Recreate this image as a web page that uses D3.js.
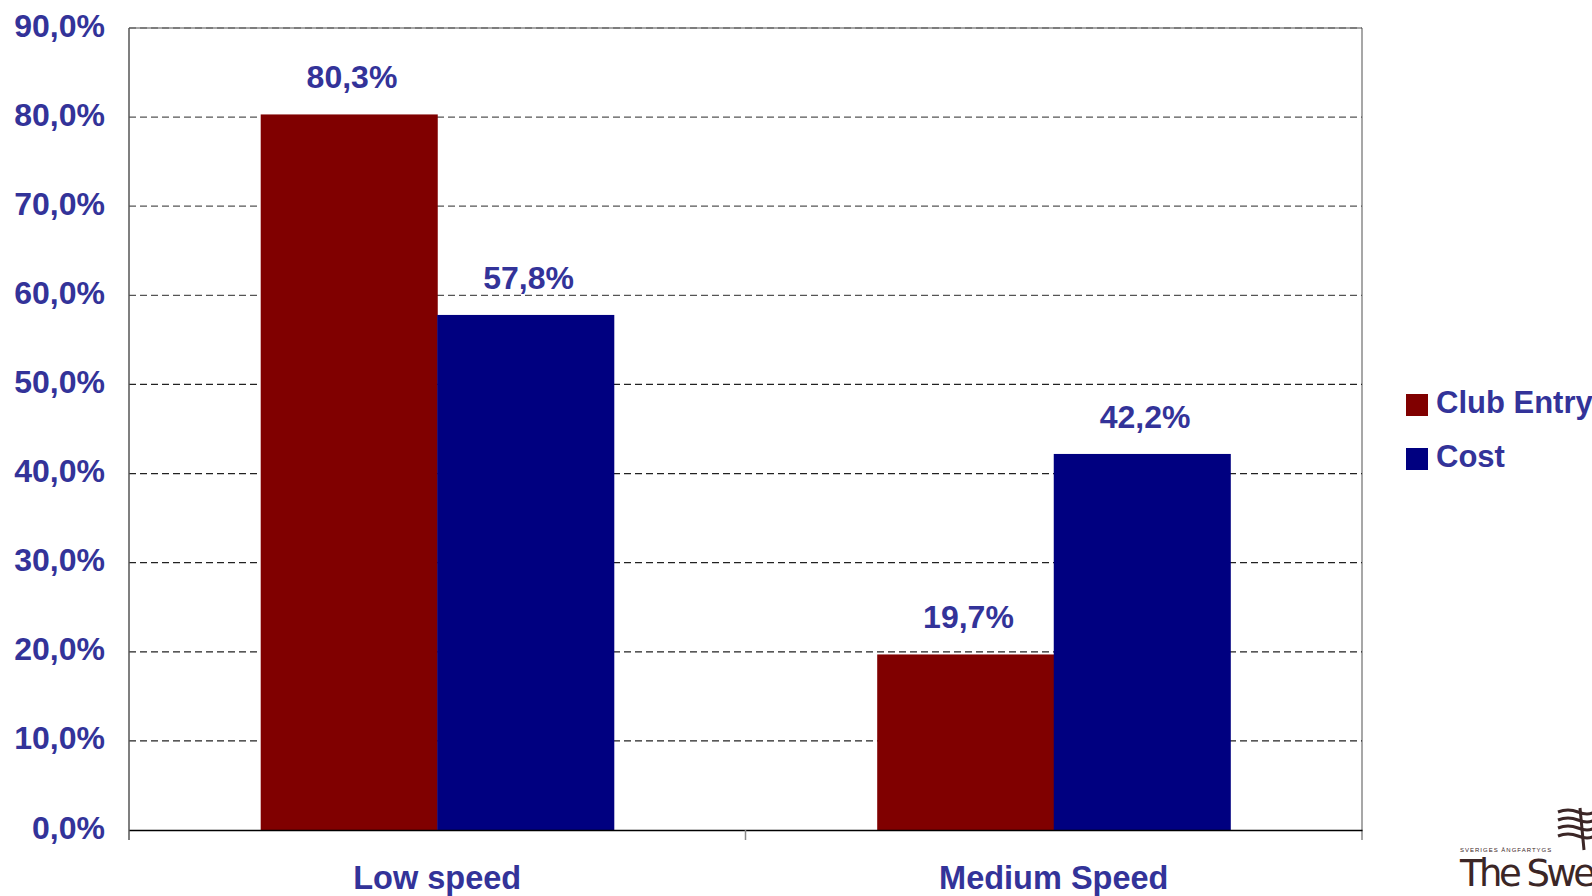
<!DOCTYPE html>
<html>
<head>
<meta charset="utf-8">
<script src="https://cdn.jsdelivr.net/npm/d3@7/dist/d3.min.js"></script>
<style>
    html, body { margin: 0; padding: 0; background: #fff; overflow: hidden; }
    svg { display: block; font-family: "Liberation Sans", Arial, sans-serif; font-weight: bold; }
</style>
</head>
<body>
<svg id="chart" width="1592" height="896"></svg>
<script>
// chart data
var categories = ['Low speed', 'Medium Speed'];
var seriesNames = ['Club Entry', 'Cost'];
var clubEntry = [80.3, 19.7];
var cost = [57.8, 42.2];
var yTicks = [0, 10, 20, 30, 40, 50, 60, 70, 80, 90];

var colors = { 'Club Entry': '#800000', 'Cost': '#000080' };
var textColor = '#333399';

var margin = { left: 129, top: 28, right: 230, bottom: 66 };
var width = 1592, height = 896;

var svg = d3.select('#chart');

var fmt = function(v) {
    return d3.format('.1f')(v).replace('.', ',') + '%';
};

var x = d3.scaleBand()
    .domain(categories)
    .range([margin.left, width - margin.right]);

var xSub = d3.scaleBand()
    .domain(seriesNames)
    .range([0, x.bandwidth()])
    .paddingOuter(0.746);

var y = d3.scaleLinear()
    .domain([0, 90])
    .range([height - margin.bottom, margin.top]);

var rows = categories.map(function(c, i) {
    return { category: c, values: [
        { name: 'Club Entry', value: clubEntry[i] },
        { name: 'Cost', value: cost[i] }
    ]};
});

// plot frame (top + right in gray)
var x0 = x.range()[0], x1 = x.range()[1];
svg.append('line')
    .attr('x1', x0).attr('x2', x1)
    .attr('y1', y(90)).attr('y2', y(90))
    .attr('stroke', '#8a8a8a').attr('stroke-width', 1.5);
svg.append('line')
    .attr('x1', x1).attr('x2', x1)
    .attr('y1', y(90)).attr('y2', y(0) + 10)
    .attr('stroke', '#8a8a8a').attr('stroke-width', 1.5);

// dashed gridlines
svg.append('g')
    .selectAll('line')
    .data(yTicks.filter(function(t) { return t > 0; }))
    .enter().append('line')
    .attr('x1', x0).attr('x2', x1)
    .attr('y1', function(d) { return y(d); })
    .attr('y2', function(d) { return y(d); })
    .attr('stroke', function(d) { return d >= 60 ? '#555' : '#222'; })
    .attr('stroke-width', 1.2)
    .attr('stroke-dasharray', '7,4');

// bars
var groups = svg.append('g')
    .selectAll('g')
    .data(rows)
    .enter().append('g')
    .attr('transform', function(d) { return 'translate(' + x(d.category) + ',0)'; });

groups.selectAll('rect')
    .data(function(d) { return d.values; })
    .enter().append('rect')
    .attr('x', function(d) { return xSub(d.name); })
    .attr('width', xSub.bandwidth() + 0.5)
    .attr('y', function(d) { return y(d.value); })
    .attr('height', function(d) { return y(0) - y(d.value); })
    .attr('fill', function(d) { return colors[d.name]; });

groups.selectAll('text')
    .data(function(d) { return d.values; })
    .enter().append('text')
    .attr('x', function(d) { return xSub(d.name) + xSub.bandwidth() / 2 + 3; })
    .attr('y', function(d) { return y(d.value) - 26; })
    .attr('text-anchor', 'middle')
    .attr('fill', textColor)
    .attr('font-size', 32)
    .text(function(d) { return fmt(d.value); });

// left axis
svg.append('line')
    .attr('x1', x0).attr('x2', x0)
    .attr('y1', y(90)).attr('y2', y(0) + 10)
    .attr('stroke', '#555').attr('stroke-width', 1.5);

svg.append('g')
    .selectAll('text')
    .data(yTicks)
    .enter().append('text')
    .attr('x', 105)
    .attr('y', function(d) { return y(d) + 8.5; })
    .attr('text-anchor', 'end')
    .attr('fill', textColor)
    .attr('font-size', 32)
    .text(fmt);

// bottom axis
var xAxis = d3.axisBottom(x).tickSize(0).tickFormat('');
svg.append('g')
    .attr('transform', 'translate(0,' + y(0) + ')')
    .call(xAxis)
    .call(function(g) { g.select('.domain').attr('stroke', '#000').attr('stroke-width', 1.5); });

svg.append('line')
    .attr('x1', x(categories[1])).attr('x2', x(categories[1]))
    .attr('y1', y(0)).attr('y2', y(0) + 10)
    .attr('stroke', '#888').attr('stroke-width', 1.5);

svg.append('g')
    .selectAll('text')
    .data(categories)
    .enter().append('text')
    .attr('x', function(d) { return x(d) + x.bandwidth() / 2; })
    .attr('y', y(0) + 59)
    .attr('text-anchor', 'middle')
    .attr('fill', textColor)
    .attr('font-size', 32.5)
    .text(function(d) { return d; });

// legend
var legend = svg.append('g')
    .attr('transform', 'translate(1406,394)');

var item = legend.selectAll('g')
    .data(seriesNames)
    .enter().append('g')
    .attr('transform', function(d, i) { return 'translate(0,' + (i * 54) + ')'; });

item.append('rect')
    .attr('width', 22).attr('height', 22)
    .attr('fill', function(d) { return colors[d]; });

item.append('text')
    .attr('x', 30)
    .attr('y', 18.5)
    .attr('fill', textColor)
    .attr('font-size', 31)
    .text(function(d) { return d; });

// logo fragment, bottom right (cut by the page edge, as in the original)
var logo = svg.append('g').attr('fill', '#3b2626');
logo.append('text')
    .attr('x', 1460).attr('y', 852)
    .attr('font-size', 6)
    .attr('letter-spacing', 1)
    .attr('font-weight', 'normal')
    .text('SVERIGES ÅNGFARTYGS');
logo.append('text')
    .attr('x', 1460).attr('y', 886)
    .attr('font-size', 37)
    .attr('font-weight', 'normal')
    .attr('font-family', '"DejaVu Sans", sans-serif')
    .attr('textLength', 136)
    .text('The Swe');
var waves = logo.append('g')
    .attr('fill', 'none')
    .attr('stroke', '#3b2626')
    .attr('stroke-width', 3);
[812, 820, 828, 836].forEach(function(yy) {
    waves.append('path')
        .attr('d', 'M1558,' + yy + ' q10,-4 20,0 t16,0');
});
waves.append('path').attr('d', 'M1580,808 L1584,850');
</script>
</body>
</html>
